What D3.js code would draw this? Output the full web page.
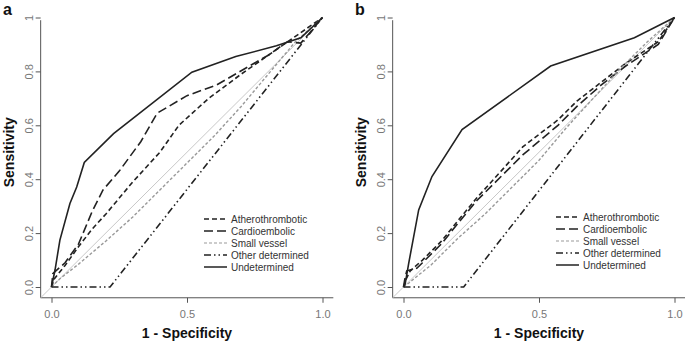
<!DOCTYPE html>
<html>
<head>
<meta charset="utf-8">
<script src="https://cdn.jsdelivr.net/npm/d3@7"></script>
<style>
  body { margin: 0; background: #fff; }
  svg text { font-family: "Liberation Sans", Arial, sans-serif; }
  .tick line, .domain { stroke: #555; }
  .tick text { fill: #777; font-size: 11px; }
  .axis--title { font-size: 14px; font-weight: bold; fill: #111; }
  .panel--letter { font-size: 16px; font-weight: bold; fill: #111; }
  .legend--text { font-size: 10px; fill: #333; }
</style>
</head>
<body>
<div id="graphic"></div>
<script>
// series names, in legend order
const seriesNames = ["Atherothrombotic", "Cardioembolic", "Small vessel", "Other determined", "Undetermined"];
const xTicks = [0, 0.5, 1];
const yTicks = [0, 0.2, 0.4, 0.6, 0.8, 1];
const panelLetters = ["a", "b"];

// panel a: [1 - specificity, sensitivity]
const athero_a = [[0,0],[0.01,0.03],[0.05,0.08],[0.1,0.15],[0.15,0.215],[0.2,0.27],[0.3,0.39],[0.4,0.5],[0.47,0.6],[0.58,0.7],[0.7,0.79],[0.8,0.86],[0.9,0.93],[1,1]];
const cardio_a = [[0,0],[0.005,0.05],[0.013,0.057],[0.05,0.09],[0.1,0.16],[0.15,0.28],[0.19,0.36],[0.25,0.43],[0.33,0.54],[0.39,0.645],[0.5,0.71],[0.61,0.75],[0.73,0.82],[0.8,0.86],[0.87,0.91],[0.92,0.905],[0.95,0.94],[1,1]];
const small_a = [[0,0],[0.03,0.03],[0.1,0.085],[0.2,0.17],[0.3,0.26],[0.4,0.36],[0.5,0.46],[0.6,0.56],[0.7,0.67],[0.8,0.79],[0.9,0.91],[1,1]];
const other_a = [[0,0],[0.216,0],[1,1]];
const undet_a = [[0,0],[0.013,0.063],[0.031,0.174],[0.068,0.31],[0.093,0.371],[0.121,0.462],[0.229,0.569],[0.518,0.797],[0.68,0.855],[0.83,0.895],[0.92,0.925],[1,1]];

// panel b
const athero_b = [[0,0],[0.01,0.03],[0.025,0.06],[0.07,0.1],[0.14,0.17],[0.2,0.245],[0.27,0.33],[0.36,0.43],[0.44,0.52],[0.57,0.62],[0.64,0.69],[0.73,0.76],[0.82,0.83],[0.94,0.91],[1,1]];
const cardio_b = [[0,0],[0.005,0.03],[0.012,0.06],[0.05,0.07],[0.07,0.09],[0.14,0.16],[0.2,0.235],[0.27,0.32],[0.36,0.41],[0.44,0.49],[0.57,0.6],[0.64,0.67],[0.73,0.75],[0.82,0.82],[0.94,0.9],[1,1]];
const small_b = [[0,0],[0.02,0.015],[0.05,0.04],[0.1,0.08],[0.2,0.18],[0.3,0.27],[0.4,0.37],[0.5,0.47],[0.6,0.59],[0.7,0.7],[0.8,0.81],[0.9,0.91],[1,1]];
const other_b = [[0,0],[0.222,0],[1,1]];
const undet_b = [[0,0],[0.006,0.01],[0.019,0.087],[0.056,0.286],[0.105,0.41],[0.216,0.584],[0.543,0.82],[0.852,0.925],[1,1]];

// line styles for each series
const strokes = ["#222", "#222", "#999", "#222", "#222"];
const dashes = ["5,3", "9,4", "3,2", "7,3,1.5,3,1.5,3", null];

const panelData = [
  [athero_a, cardio_a, small_a, other_a, undet_a],
  [athero_b, cardio_b, small_b, other_b, undet_b]
];

const width = 685, height = 344;
const panelOffset = 352;
const legendTop = [219, 217];

const svg = d3.select('#graphic').append('svg')
  .attr('width', width)
  .attr('height', height);

function drawPanel(i) {
  const left = i * panelOffset;

  const x = d3.scaleLinear().domain([0, 1]).range([left + 51.5, left + 322.5]);
  const y = d3.scaleLinear().domain([0, 1]).range([287, 17.5]);

  const g = svg.append('g');

  // x axis, R style with 4% padding either side
  const xAxis = g.append('g').attr('class', 'x axis')
    .attr('transform', 'translate(0,' + y(-0.04) + ')')
    .call(d3.axisBottom(x).tickValues(xTicks).tickFormat(d3.format('.1f')).tickSize(5).tickPadding(7));
  xAxis.select('.domain').attr('d', 'M' + x(-0.04) + ',0H' + x(1.04));

  // y axis with rotated labels
  const yAxis = g.append('g').attr('class', 'y axis')
    .attr('transform', 'translate(' + x(-0.04) + ',0)')
    .call(d3.axisLeft(y).tickValues(yTicks).tickFormat(d => d === 1 ? '1' : d3.format('.1f')(d)).tickSize(5));
  yAxis.select('.domain').attr('d', 'M0,' + y(-0.04) + 'V' + y(0.99));
  yAxis.selectAll('text')
    .attr('transform', 'rotate(-90)')
    .attr('x', 0)
    .attr('y', -8)
    .attr('dy', 0)
    .attr('text-anchor', 'middle');

  // reference diagonal
  g.append('line')
    .attr('x1', x(-0.04)).attr('y1', y(-0.04))
    .attr('x2', x(1)).attr('y2', y(1))
    .attr('stroke', '#c8c8c8')
    .attr('stroke-width', 1);

  // roc curves
  const line = d3.line().x(d => x(d[0])).y(d => y(d[1]));
  panelData[i].forEach(function (series, k) {
    g.append('path')
      .attr('d', line(series))
      .attr('fill', 'none')
      .attr('stroke', strokes[k])
      .attr('stroke-width', k === 2 ? 1.4 : 1.6)
      .attr('stroke-dasharray', dashes[k]);
  });

  // axis titles
  g.append('text')
    .attr('class', 'axis--title')
    .attr('x', x(0.5))
    .attr('y', 338)
    .attr('text-anchor', 'middle')
    .text('1 - Specificity');

  g.append('text')
    .attr('class', 'axis--title')
    .attr('transform', 'translate(' + (left + 14) + ',' + y(0.5) + ') rotate(-90)')
    .attr('text-anchor', 'middle')
    .text('Sensitivity');

  // panel letter
  g.append('text')
    .attr('class', 'panel--letter')
    .attr('x', left + 3)
    .attr('y', 14.5)
    .text(panelLetters[i]);

  // legend
  const legend = g.append('g')
    .attr('transform', 'translate(' + (left + 204) + ',' + legendTop[i] + ')');
  const item = legend.selectAll('g')
    .data(seriesNames)
    .join('g')
    .attr('transform', (d, k) => 'translate(0,' + (k * 12) + ')');
  item.append('line')
    .attr('x1', 0).attr('x2', 23)
    .attr('stroke', (d, k) => strokes[k])
    .attr('stroke-width', (d, k) => k === 2 ? 1.2 : 1.5)
    .attr('stroke-dasharray', (d, k) => dashes[k]);
  item.append('text')
    .attr('class', 'legend--text')
    .attr('x', 27)
    .attr('dy', '0.35em')
    .text(d => d);
}

panelLetters.forEach((d, i) => drawPanel(i));
</script>
</body>
</html>
